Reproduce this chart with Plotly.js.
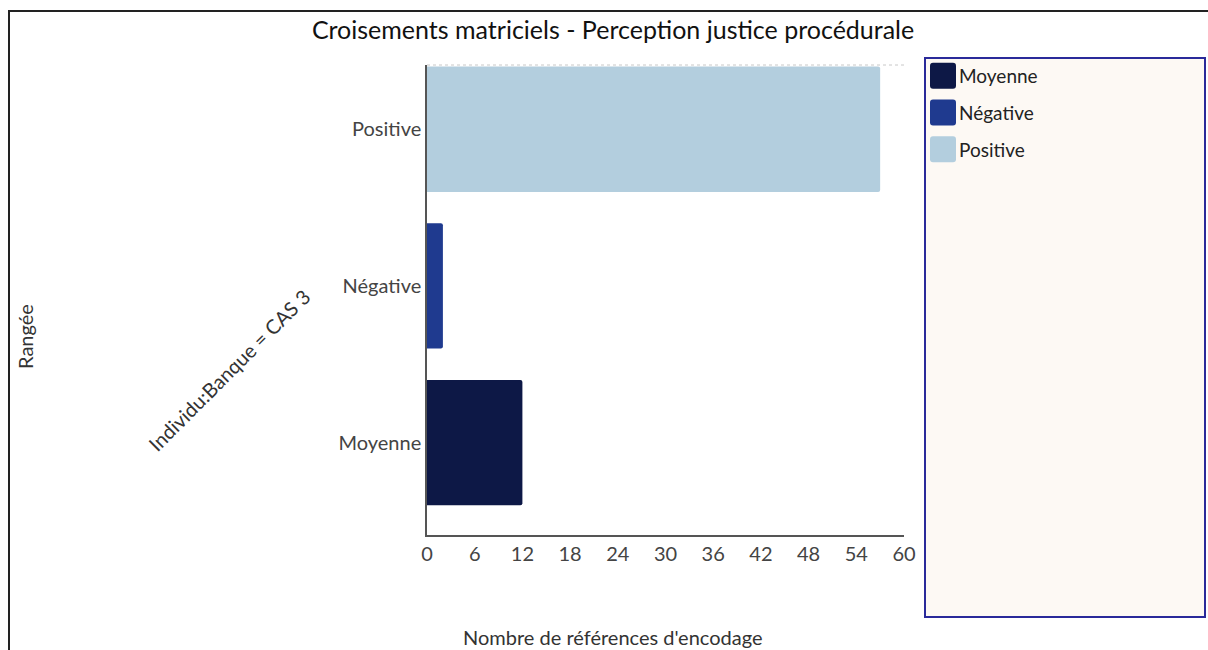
<!DOCTYPE html>
<html>
<head>
<meta charset="utf-8">
<script src="https://cdn.plot.ly/plotly-3.0.1.min.js"></script>
<style>
  html, body { margin: 0; padding: 0; background: #fff; }
  #wrap { position: relative; width: 1208px; height: 650px; overflow: hidden; }
  #chart { position: absolute; left: 0; top: 0; width: 1208px; height: 650px; }
  #frame { position: absolute; left: 8px; top: 10px; right: -10px; bottom: -10px;
           border-left: 2px solid #222; border-top: 2px solid #222; pointer-events: none; }
</style>
</head>
<body>
<div id="wrap">
  <div id="chart"></div>
  <div id="frame"></div>
</div>
<script>
const categories = ["Moyenne", "Négative", "Positive"];
const values = [12, 2, 57];
const colors = ["#0d1846", "#1f3a8f", "#b3cede"];
const xTicks = [0, 6, 12, 18, 24, 30, 36, 42, 48, 54, 60];

const FONT = "Lato, 'Open Sans', sans-serif";

const traces = categories.map((c, i) => ({
  type: "bar",
  orientation: "h",
  name: c,
  legendgroup: "g" + i,
  y: [c],
  x: [values[i]],
  width: 0.8,
  marker: { color: colors[i], line: { width: 0 }, cornerradius: 2 },
  hoverinfo: "x+name"
}));

const layout = {
  width: 1208, height: 650,
  margin: { l: 427, r: 304, t: 65, b: 115, pad: 0 },
  paper_bgcolor: "#fff",
  plot_bgcolor: "#fff",
  barmode: "overlay",
  title: {
    text: "Croisements matriciels - Perception justice procédurale",
    font: { family: FONT, size: 25, color: "#111" },
    xref: "container", x: 0.5075, xanchor: "center",
    yref: "container", y: 0.953, yanchor: "middle"
  },
  xaxis: {
    range: [0, 60],
    tickvals: xTicks,
    ticktext: xTicks.map(String),
    showgrid: false, zeroline: false,
    showline: true, linecolor: "#555", linewidth: 1.5,
    ticks: "", ticklen: 0,
    tickfont: { family: FONT, size: 20, color: "#444" },
    fixedrange: true
  },
  yaxis: {
    type: "category",
    categoryorder: "array", categoryarray: categories,
    range: [-0.59, 2.41],
    showgrid: false, zeroline: false,
    showline: true, linecolor: "#555", linewidth: 1.5,
    ticks: "", ticklen: 0,
    tickfont: { family: FONT, size: 20, color: "#444" },
    fixedrange: true
  },
  showlegend: true,
  legend: {
    x: (919 - 427) / 477, xanchor: "left",
    y: (535 - 57) / 470, yanchor: "top",
    bgcolor: "rgba(0,0,0,0)",
    borderwidth: 0,
    font: { family: FONT, size: 19, color: "#222" },
    traceorder: "grouped",
    tracegroupgap: 9,
    itemwidth: 30
  },
  shapes: [
    { type: "rect", xref: "paper", yref: "paper",
      x0: (925 - 427) / 477, x1: (1205 - 427) / 477,
      y0: (535 - 617) / 470, y1: (535 - 58) / 470,
      fillcolor: "#fdf9f4", line: { color: "#2a2a9a", width: 2 }, layer: "below" },
    { type: "line", xref: "paper", yref: "paper",
      x0: 0, x1: 1, y0: 1, y1: 1,
      line: { color: "#c8c8c8", width: 1, dash: "dot" } }
  ],
  annotations: [
    { text: "Nombre de références d'encodage", xref: "paper", yref: "paper",
      x: (613 - 427) / 477, y: (535 - 637) / 470, xanchor: "center", yanchor: "middle", showarrow: false,
      font: { family: FONT, size: 20, color: "#333" } },
    { text: "Rangée", xref: "paper", yref: "paper",
      x: (25 - 427) / 477, y: (535 - 337) / 470, xanchor: "center", yanchor: "middle",
      textangle: -90, showarrow: false,
      font: { family: FONT, size: 20, color: "#333" } },
    { text: "Individu:Banque = CAS 3", xref: "paper", yref: "paper",
      x: (229 - 427) / 477, y: (535 - 370) / 470, xanchor: "center", yanchor: "middle",
      textangle: -45, showarrow: false,
      font: { family: FONT, size: 20, color: "#333" } }
  ]
};

Plotly.newPlot("chart", traces, layout, { displayModeBar: false }).then(gd => {
  // enlarge legend swatches to rounded squares like the reference
  const s = 13, r = 3;
  const d = `M${-s + r},${-s}H${s - r}Q${s},${-s} ${s},${-s + r}V${s - r}Q${s},${s} ${s - r},${s}` +
            `H${-s + r}Q${-s},${s} ${-s},${s - r}V${-s + r}Q${-s},${-s} ${-s + r},${-s}Z`;
  gd.querySelectorAll(".legend .legendpoints path").forEach(p => {
    p.setAttribute("d", d);
    p.setAttribute("transform", "translate(24,0)");
  });
});
</script>
</body>
</html>
